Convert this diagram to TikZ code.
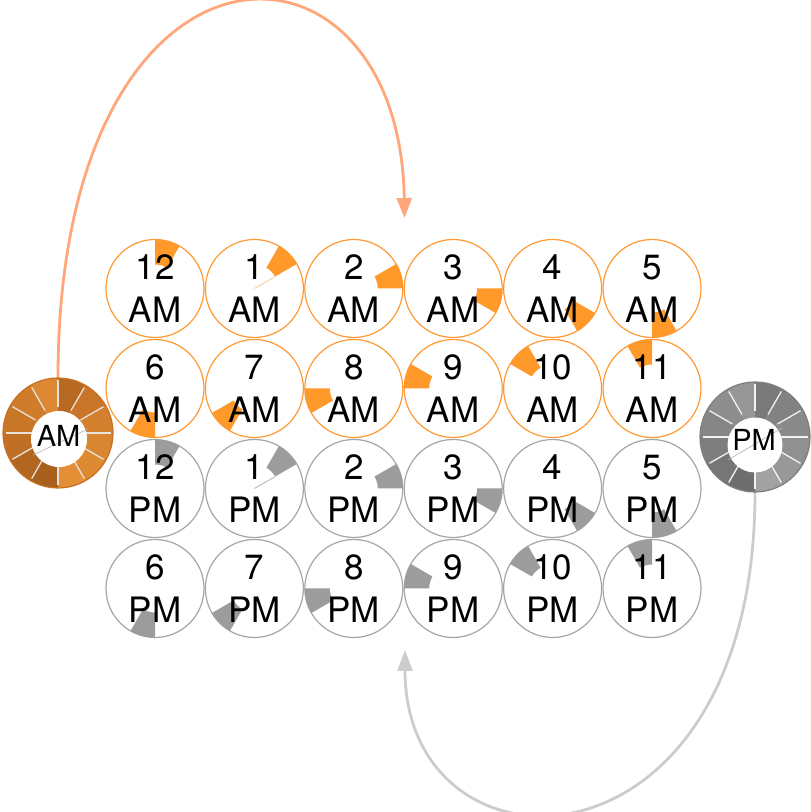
\documentclass[tikz,border=0pt]{standalone}
\usepackage{fontspec}
\setmainfont{TeX Gyre Heros}
\usetikzlibrary{arrows.meta}
\definecolor{amline}{HTML}{FF9933}
\definecolor{amwedge}{HTML}{FF9A2A}
\definecolor{pmline}{HTML}{A6A6A6}
\definecolor{pmwedge}{HTML}{9C9C9C}
\definecolor{amarrowc}{HTML}{FFA77A}
\definecolor{pmarrowc}{HTML}{CCCCCC}
\definecolor{amedge}{HTML}{C87022}
\definecolor{pmedge}{HTML}{7E7E7E}
\definecolor{sepc}{HTML}{E8E2DA}
\definecolor{am0}{HTML}{B96A22}
\definecolor{am1}{HTML}{C8752A}
\definecolor{am2}{HTML}{D2802E}
\definecolor{am3}{HTML}{D98631}
\definecolor{am4}{HTML}{DD8A33}
\definecolor{am5}{HTML}{E48F36}
\definecolor{am6}{HTML}{A9601C}
\definecolor{am7}{HTML}{B2661F}
\definecolor{am8}{HTML}{C06F24}
\definecolor{am9}{HTML}{C87628}
\definecolor{am10}{HTML}{D07C2C}
\definecolor{am11}{HTML}{DD8833}
\definecolor{pm0}{HTML}{7A7A7A}
\definecolor{pm1}{HTML}{828282}
\definecolor{pm2}{HTML}{8A8A8A}
\definecolor{pm3}{HTML}{909090}
\definecolor{pm4}{HTML}{989898}
\definecolor{pm5}{HTML}{A2A2A2}
\definecolor{pm6}{HTML}{6E6E6E}
\definecolor{pm7}{HTML}{767676}
\definecolor{pm8}{HTML}{7E7E7E}
\definecolor{pm9}{HTML}{868686}
\definecolor{pm10}{HTML}{8E8E8E}
\definecolor{pm11}{HTML}{969696}
\begin{document}
\begin{tikzpicture}[x=1pt,y=1pt,
  amclock/.style={circle, draw=amline, line width=1.2pt, fill=white, minimum size=98pt, inner sep=0pt},
  pmclock/.style={circle, draw=pmline, line width=1.2pt, fill=white, minimum size=98pt, inner sep=0pt},
  numtxt/.style={anchor=base, font=\fontsize{35}{40}\selectfont, inner sep=0pt},
  ringtxt/.style={anchor=base, font=\fontsize{29}{34}\selectfont, inner sep=0pt},
  ringnode/.style={circle, minimum size=110pt, inner sep=0pt},
  sepline/.style={draw=sepc, line width=1.3pt},
  amarrow/.style={draw=amarrowc, line width=2.8pt, -{Triangle[length=20pt,width=15pt]}},
  pmarrow/.style={draw=pmarrowc, line width=2.8pt, -{Triangle[length=21pt,width=15pt]}},
  artline/.style={line width=0.6pt}
]
\useasboundingbox (0,0) rectangle (811,812);

% ring nodes
\node[ringnode] (amring) at (58,379) {};
\node[ringnode] (pmring) at (755,375) {};
\coordinate (amtip) at (404.5,594);
\coordinate (pmtip) at (405,162);

% arrows
\draw[amarrow] (amring.north) .. controls (58,904) and (400,904) .. (amtip);
\draw[pmarrow] (pmring.south) .. controls (755,-75.7) and (405,-75.7) .. (pmtip);

% clock circles
\foreach \h in {0,...,23}{
  \pgfmathtruncatemacro\row{int(\h/6)}
  \pgfmathtruncatemacro\col{mod(\h,6)}
  \pgfmathsetmacro\cx{155+99.4*\col}
  \pgfmathsetmacro\cy{523.5-100*\row}
  \ifnum\h<12 \def\sty{amclock}\else\def\sty{pmclock}\fi
  \node[\sty] (c\h) at (\cx,\cy) {};
}

% wedges
\foreach \h in {0,...,23}{
  \pgfmathtruncatemacro\hh{mod(\h,12)}
  \pgfmathsetmacro\aa{90-30*\hh}
  \pgfmathsetmacro\ab{60-30*\hh}
  \ifnum\h<12 \def\wc{amwedge}\else\def\wc{pmwedge}\fi
  \fill[\wc] ([shift={(\aa:24)}]c\h.center) arc[start angle=\aa, end angle=\ab, radius=24]
    -- ([shift={(\ab:49)}]c\h.center) arc[start angle=\ab, end angle=\aa, radius=49] -- cycle;
}
\draw[artline, draw=amline!70] (c1.center) -- ([shift={(30:24)}]c1.center);
\draw[artline, draw=pmwedge] (c13.center) -- ([shift={(30:24)}]c13.center);

% labels
\foreach \h in {0,...,23}{
  \pgfmathtruncatemacro\hh{mod(\h,12)}
  \ifnum\hh=0 \def\lbl{12}\else\edef\lbl{\hh}\fi
  \ifnum\h<12 \def\sfx{AM}\else\def\sfx{PM}\fi
  \node[numtxt] (n\h) at ([yshift=8.5pt]c\h.center) {\lbl};
  \node[numtxt] (m\h) at ([yshift=-34.5pt]c\h.center) {\sfx};
}

% AM ring
\foreach \i in {0,...,11}{
  \pgfmathsetmacro\aa{90-30*\i}
  \pgfmathsetmacro\ab{60-30*\i}
  \fill[am\i] (amring.center) -- ([shift={(\aa:55)}]amring.center) arc[start angle=\aa, end angle=\ab, radius=55] -- cycle;
}
\foreach \i in {0,...,11}{
  \pgfmathsetmacro\aa{90-30*\i}
  \draw[sepline] ([shift={(\aa:26)}]amring.center) -- ([shift={(\aa:52.5)}]amring.center);
}
\draw[amedge, line width=1.2pt] (amring.center) circle[radius=55];
\node[circle, fill=white, minimum size=56pt, inner sep=0pt] (aminner) at (59,373) {};
\draw[artline, draw=gray!60] (33,357) -- (88,383);
\node[ringtxt] (amtxt) at (58.5,365) {AM};

% PM ring
\foreach \i in {0,...,11}{
  \pgfmathsetmacro\aa{90-30*\i}
  \pgfmathsetmacro\ab{60-30*\i}
  \fill[pm\i] (pmring.center) -- ([shift={(\aa:55)}]pmring.center) arc[start angle=\aa, end angle=\ab, radius=55] -- cycle;
}
\foreach \i in {0,...,11}{
  \pgfmathsetmacro\aa{90-30*\i}
  \draw[sepline, draw=white!90!gray] ([shift={(\aa:26)}]pmring.center) -- ([shift={(\aa:52.5)}]pmring.center);
}
\draw[pmedge, line width=1.2pt] (pmring.center) circle[radius=55];
\node[circle, fill=white, minimum size=55pt, inner sep=0pt] (pminner) at (755,367) {};
\draw[artline, draw=gray!60] (728,352) -- (782,384);
\node[ringtxt] (pmtxt) at (754,361) {PM};
\end{tikzpicture}
\end{document}
